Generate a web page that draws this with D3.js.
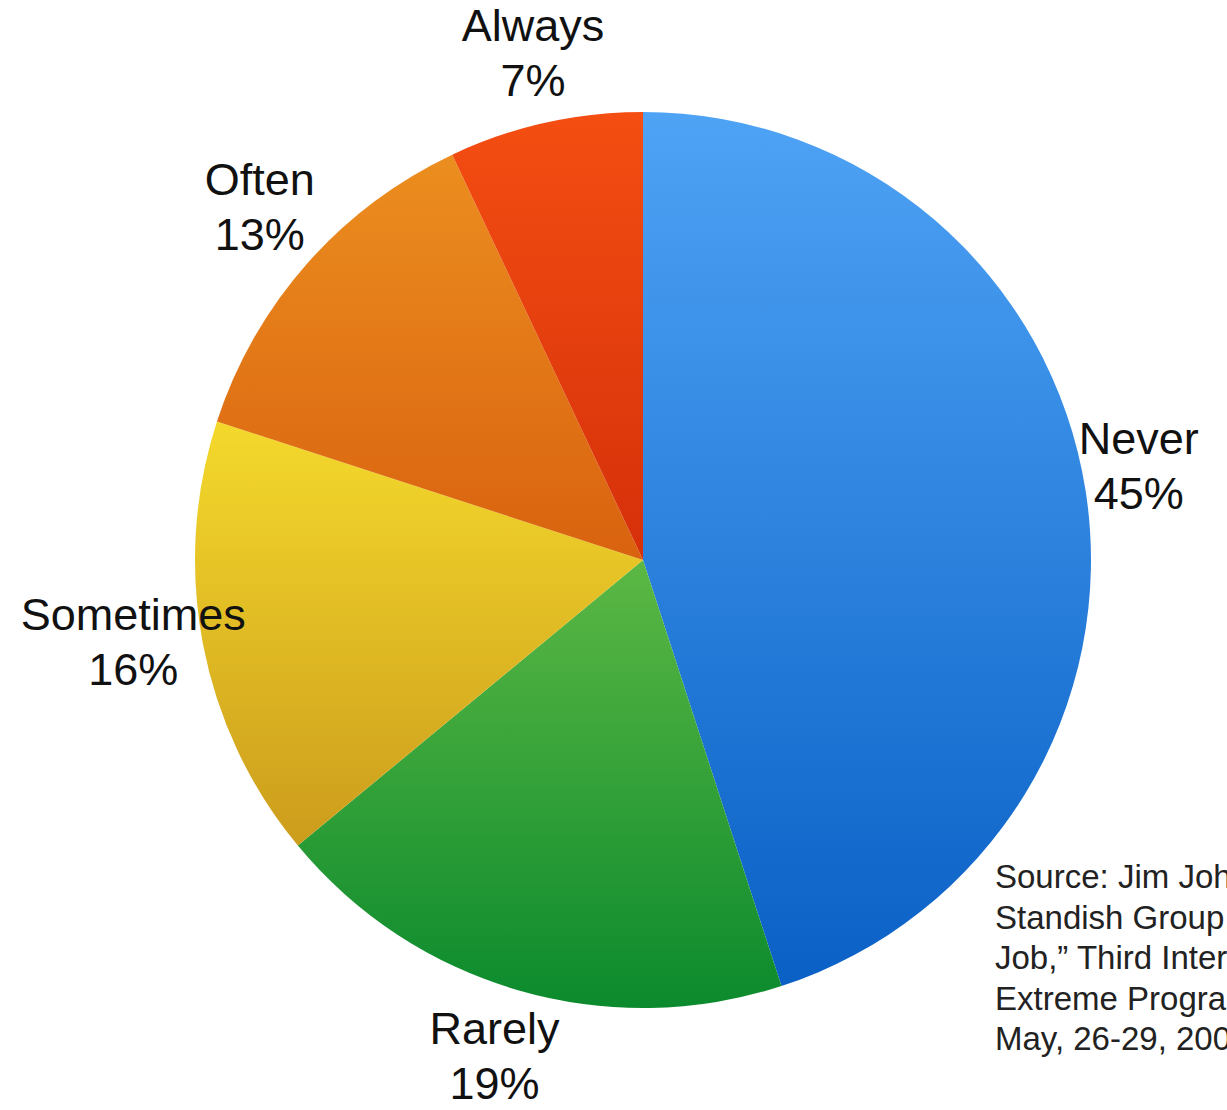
<!DOCTYPE html>
<html>
<head>
<meta charset="utf-8">
<script src="https://cdn.jsdelivr.net/npm/d3@7"></script>
<style>
  html, body { margin: 0; padding: 0; background: #ffffff; overflow: hidden; }
  svg { display: block; }
</style>
</head>
<body>
<svg id="chart" width="1227" height="1110"></svg>
<script>
// ---- data ----
const categories = ["Never", "Rarely", "Sometimes", "Often", "Always"];
const values = [45, 19, 16, 13, 7];
const colorsTop = ["#4ea3f5", "#5cb844", "#f4d92c", "#ec8e1f", "#f44e12"];
const colorsBottom = ["#0a60c5", "#0b8a2d", "#cc9c1c", "#d9620f", "#d5300a"];
const sourceLines = [
  "Source: Jim Johnson, Chairman of the",
  "Standish Group, \u201cROI, It\u2019s Your",
  "Job,\u201d Third International Conference on",
  "Extreme Programming, Alghero, Italy,",
  "May, 26-29, 2002"
];

// ---- layout ----
const W = 1227, H = 1110;
const cx = 643, cy = 560, R = 448;
const svg = d3.select("#chart");
const font = "'Liberation Sans', Arial, Helvetica, sans-serif";

const data = categories.map((c, i) => ({ name: c, value: values[i], i }));
const pie = d3.pie().value(d => d.value).sort(null);
const arcs = pie(data);
const arc = d3.arc().innerRadius(0).outerRadius(R);

const defs = svg.append("defs");
arcs.forEach((a, i) => {
  const g = defs.append("linearGradient")
    .attr("id", "grad" + i)
    .attr("x1", 0).attr("y1", 0).attr("x2", 0).attr("y2", 1);
  g.append("stop").attr("offset", "0%").attr("stop-color", colorsTop[i]);
  g.append("stop").attr("offset", "100%").attr("stop-color", colorsBottom[i]);
});

const g = svg.append("g").attr("transform", `translate(${cx},${cy})`);
g.selectAll("path.slice")
  .data(arcs)
  .join("path")
  .attr("class", "slice")
  .attr("d", arc)
  .attr("fill", (d, i) => `url(#grad${i})`);

// labels
const labels = g.selectAll("g.label")
  .data(arcs)
  .join("g")
  .attr("class", "label")
  .attr("transform", d => {
    const a = (d.startAngle + d.endAngle) / 2;
    const r = 502 + 28 * Math.max(0, -Math.cos(a)) + 12 * Math.max(0, -Math.sin(a));
    return `translate(${Math.sin(a) * r},${-Math.cos(a) * r})`;
  });
labels.append("text")
  .attr("text-anchor", "middle")
  .attr("y", -27)
  .attr("font-family", font)
  .attr("font-size", 45)
  .attr("fill", "#111")
  .text(d => d.data.name);
labels.append("text")
  .attr("text-anchor", "middle")
  .attr("y", 28)
  .attr("font-family", font)
  .attr("font-size", 45)
  .attr("fill", "#111")
  .text(d => d.data.value + "%");

// source note
const src = svg.append("text")
  .attr("font-family", font)
  .attr("font-size", 33)
  .attr("fill", "#222");
sourceLines.forEach((t, i) => {
  src.append("tspan").attr("x", 995).attr("y", 888 + i * 40.5).text(t);
});
</script>
</body>
</html>
